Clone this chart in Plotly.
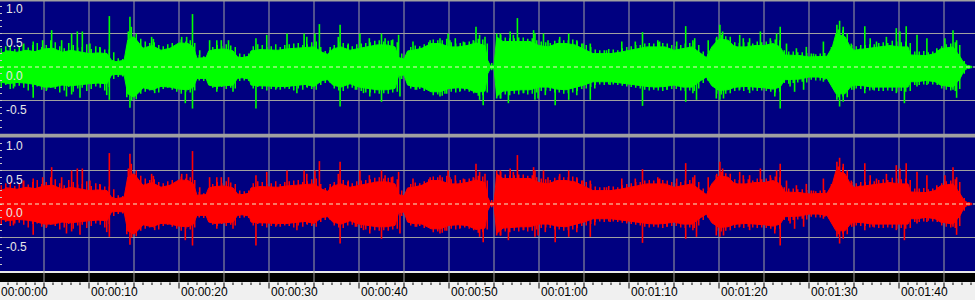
import plotly.graph_objects as go

# ---------------- data ----------------
TIME_LABEL_SECONDS = [0, 10, 20, 30, 40, 50, 60, 70, 80, 90, 100]
TIME_LABELS = ["00:00:00", "00:00:10", "00:00:20", "00:00:30", "00:00:40", "00:00:50",
               "00:01:00", "00:01:10", "00:01:20", "00:01:30", "00:01:40"]
Y_LABEL_VALUES = [1.0, 0.5, 0.0, -0.5]
Y_LABELS = ["1.0", "0.5", "0.0", "-0.5"]

# dense body of the waveform (seconds, upper edge, lower edge)
BODY_T = [0.1, 1, 2, 3, 4, 5, 6, 7, 8, 9, 10, 11, 12, 12.5, 13, 13.9, 14.3, 15, 15.7, 16,
          17, 18, 19, 20, 21, 21.6, 22, 23, 23.3, 24, 25, 26, 26.5, 27, 27.8, 28, 29, 30,
          31, 32, 33, 34, 35, 35.9, 36.5, 37.1, 38, 39, 40, 41, 42, 43, 44, 44.4, 45, 45.4,
          46, 47, 48, 49, 50, 51, 52, 53, 54, 54.3, 54.6, 55.0, 55.3, 56, 57, 58, 59, 60,
          61, 62, 63, 64, 65, 66, 67, 68, 69, 70, 71, 72, 73, 74, 75, 76, 77, 78, 78.6,
          79.2, 80, 81, 81.6, 82, 83, 84, 85, 86, 86.8, 87.3, 88, 89, 90, 91, 92, 92.6, 93,
          94, 94.6, 95, 96, 97, 98, 99, 100, 101, 101.3, 102, 103, 104, 104.6, 105, 106,
          106.8, 107.2, 107.6, 108.1]
BODY_TOP = [0.20, 0.24, 0.22, 0.25, 0.23, 0.27, 0.28, 0.22, 0.25, 0.22, 0.20, 0.21, 0.20,
            0.10, 0.08, 0.10, 0.40, 0.45, 0.33, 0.28, 0.32, 0.25, 0.28, 0.36, 0.35, 0.30,
            0.13, 0.14, 0.24, 0.26, 0.27, 0.24, 0.15, 0.14, 0.16, 0.24, 0.26, 0.25, 0.25,
            0.27, 0.28, 0.29, 0.30, 0.22, 0.19, 0.27, 0.30, 0.25, 0.28, 0.30, 0.33, 0.33,
            0.30, 0.14, 0.12, 0.24, 0.25, 0.28, 0.35, 0.35, 0.30, 0.30, 0.32, 0.36, 0.32,
            0.10, 0.02, 0.02, 0.45, 0.38, 0.38, 0.38, 0.38, 0.32, 0.30, 0.35, 0.35, 0.33,
            0.27, 0.20, 0.20, 0.20, 0.22, 0.25, 0.27, 0.30, 0.30, 0.30, 0.25, 0.28, 0.30,
            0.20, 0.14, 0.30, 0.42, 0.40, 0.32, 0.30, 0.30, 0.32, 0.32, 0.35, 0.30, 0.18,
            0.18, 0.17, 0.15, 0.15, 0.16, 0.30, 0.50, 0.45, 0.30, 0.25, 0.27, 0.28, 0.30,
            0.32, 0.30, 0.30, 0.18, 0.18, 0.17, 0.20, 0.27, 0.28, 0.30, 0.15, 0.06, 0.02,
            0.01]
BODY_BOT = [-0.22, -0.25, -0.23, -0.24, -0.26, -0.30, -0.30, -0.27, -0.28, -0.27, -0.25,
            -0.24, -0.25, -0.12, -0.11, -0.12, -0.40, -0.45, -0.36, -0.31, -0.34, -0.29,
            -0.30, -0.33, -0.34, -0.30, -0.17, -0.17, -0.27, -0.29, -0.28, -0.27, -0.17,
            -0.16, -0.18, -0.27, -0.28, -0.29, -0.29, -0.29, -0.28, -0.26, -0.29, -0.20,
            -0.19, -0.27, -0.30, -0.25, -0.30, -0.32, -0.34, -0.34, -0.32, -0.13, -0.12,
            -0.27, -0.29, -0.30, -0.37, -0.37, -0.32, -0.31, -0.32, -0.38, -0.36, -0.10,
            -0.02, -0.02, -0.44, -0.36, -0.35, -0.34, -0.34, -0.30, -0.30, -0.33, -0.34,
            -0.30, -0.27, -0.22, -0.22, -0.22, -0.23, -0.25, -0.27, -0.29, -0.30, -0.29,
            -0.27, -0.30, -0.30, -0.20, -0.15, -0.28, -0.35, -0.34, -0.31, -0.30, -0.29,
            -0.30, -0.31, -0.33, -0.30, -0.19, -0.19, -0.18, -0.15, -0.15, -0.17, -0.30,
            -0.40, -0.40, -0.30, -0.27, -0.28, -0.30, -0.30, -0.30, -0.30, -0.30, -0.22,
            -0.22, -0.20, -0.22, -0.27, -0.28, -0.30, -0.17, -0.06, -0.02, -0.01]

# medium strands sticking out of the body, two per second (at .25 s and .75 s)
STRAND_TOP = [0.28, 0.31, 0.33, 0.27, 0.30, 0.35, 0.29, 0.33, 0.36, 0.30, 0.33, 0.40,
              0.37, 0.31, 0.28, 0.36, 0.33, 0.29, 0.30, 0.34, 0.27, 0.31, 0.29, 0.26,
              0.26, 0.22, 0.13, 0.12, 0.30, 0.46, 0.50, 0.42, 0.38, 0.36, 0.37, 0.33,
              0.31, 0.34, 0.36, 0.33, 0.41, 0.38, 0.40, 0.36, 0.18, 0.16, 0.17, 0.30,
              0.33, 0.31, 0.34, 0.32, 0.30, 0.20, 0.19, 0.20, 0.31, 0.34, 0.33, 0.30,
              0.31, 0.34, 0.30, 0.33, 0.34, 0.35, 0.36, 0.33, 0.34, 0.37, 0.38, 0.30,
              0.24, 0.25, 0.33, 0.37, 0.36, 0.33, 0.31, 0.34, 0.35, 0.36, 0.37, 0.39,
              0.40, 0.38, 0.39, 0.41, 0.37, 0.20, 0.17, 0.30, 0.32, 0.31, 0.34, 0.37,
              0.41, 0.40, 0.40, 0.42, 0.37, 0.35, 0.36, 0.37, 0.38, 0.39, 0.42, 0.41,
              0.35, 0.06, 0.03, 0.48, 0.44, 0.43, 0.43, 0.44, 0.44, 0.42, 0.43, 0.40,
              0.38, 0.37, 0.36, 0.39, 0.41, 0.40, 0.40, 0.41, 0.38, 0.35, 0.33, 0.30,
              0.26, 0.25, 0.25, 0.27, 0.26, 0.25, 0.28, 0.30, 0.31, 0.33, 0.33, 0.35,
              0.36, 0.35, 0.37, 0.36, 0.35, 0.33, 0.31, 0.33, 0.35, 0.36, 0.37, 0.33,
              0.23, 0.19, 0.22, 0.45, 0.48, 0.46, 0.45, 0.37, 0.36, 0.37, 0.37, 0.35,
              0.38, 0.37, 0.38, 0.39, 0.41, 0.40, 0.25, 0.23, 0.23, 0.22, 0.22, 0.21,
              0.20, 0.19, 0.20, 0.21, 0.21, 0.30, 0.56, 0.55, 0.50, 0.33, 0.31, 0.33,
              0.33, 0.34, 0.34, 0.36, 0.37, 0.36, 0.39, 0.38, 0.37, 0.38, 0.36, 0.23,
              0.23, 0.24, 0.22, 0.23, 0.25, 0.31, 0.34, 0.35, 0.37, 0.33, 0.09, 0.03]
STRAND_BOT = [-0.30, -0.27, -0.33, -0.29, -0.28, -0.31, -0.35, -0.30, -0.29, -0.34,
              -0.36, -0.31, -0.33, -0.38, -0.35, -0.30, -0.37, -0.32, -0.31, -0.36,
              -0.33, -0.29, -0.31, -0.35, -0.30, -0.18, -0.15, -0.14, -0.33, -0.50,
              -0.48, -0.40, -0.37, -0.35, -0.36, -0.38, -0.33, -0.31, -0.34, -0.37,
              -0.40, -0.37, -0.38, -0.35, -0.20, -0.21, -0.20, -0.31, -0.33, -0.30,
              -0.33, -0.31, -0.32, -0.21, -0.20, -0.21, -0.32, -0.30, -0.33, -0.35,
              -0.33, -0.34, -0.34, -0.32, -0.33, -0.35, -0.32, -0.34, -0.31, -0.33,
              -0.34, -0.27, -0.24, -0.23, -0.32, -0.35, -0.36, -0.32, -0.31, -0.34,
              -0.36, -0.38, -0.38, -0.39, -0.40, -0.39, -0.40, -0.38, -0.37, -0.18,
              -0.17, -0.32, -0.34, -0.33, -0.36, -0.35, -0.42, -0.41, -0.43, -0.40,
              -0.37, -0.38, -0.36, -0.35, -0.37, -0.39, -0.43, -0.42, -0.38, -0.05,
              -0.03, -0.47, -0.41, -0.42, -0.40, -0.41, -0.39, -0.41, -0.40, -0.38,
              -0.36, -0.35, -0.36, -0.38, -0.38, -0.40, -0.39, -0.38, -0.36, -0.33,
              -0.32, -0.30, -0.27, -0.26, -0.27, -0.26, -0.26, -0.27, -0.28, -0.29,
              -0.30, -0.31, -0.32, -0.34, -0.35, -0.34, -0.35, -0.36, -0.34, -0.33,
              -0.33, -0.35, -0.36, -0.35, -0.36, -0.32, -0.24, -0.20, -0.24, -0.40,
              -0.41, -0.40, -0.39, -0.36, -0.35, -0.36, -0.34, -0.35, -0.36, -0.35,
              -0.36, -0.37, -0.38, -0.37, -0.24, -0.25, -0.24, -0.23, -0.22, -0.23,
              -0.19, -0.20, -0.20, -0.19, -0.22, -0.30, -0.45, -0.44, -0.45, -0.34,
              -0.32, -0.33, -0.33, -0.35, -0.35, -0.36, -0.36, -0.35, -0.36, -0.37,
              -0.36, -0.37, -0.36, -0.27, -0.27, -0.26, -0.25, -0.26, -0.27, -0.32,
              -0.34, -0.35, -0.36, -0.33, -0.10, -0.03]

# individual peaks above the body (seconds, value)
UP_T = [0.85, 2.7, 3.8, 4.85, 5.85, 6.96, 8.07, 8.7, 9.26, 10.1, 11.2, 12.26, 14.37, 14.55,
        14.7, 16.96, 17.15, 20.3, 20.85, 21.5, 22.3, 23.4, 24.2, 24.7, 25.5, 28.55, 29.75,
        32.0, 33.9, 34.2, 35.1, 35.6, 36.8, 37.7, 37.9, 38.8, 40.1, 41.15, 42.5, 42.9, 43.6,
        44.4, 46.0, 47.9, 49.0, 49.9, 50.1, 50.7, 51.6, 52.7, 53.0, 53.4, 54.0, 55.3, 55.7,
        56.8, 57.15, 57.6, 59.4, 59.55, 60.5, 61.0, 62.3, 63.3, 64.2, 64.9, 65.7, 67.5,
        69.2, 70.7, 71.5, 73.2, 73.4, 75.3, 76.3, 77.1, 77.3, 78.8, 79.7, 80.1, 80.4, 82.3,
        82.7, 83.4, 84.6, 85.7, 86.4, 86.8, 87.5, 88.6, 89.7, 90.5, 91.6, 92.5, 93.1, 93.4,
        93.8, 94.7, 95.7, 96.2, 96.8, 97.5, 98.6, 99.7, 100.1, 100.8, 102.0, 103.1, 104.2,
        105.1, 106.0, 106.4]
UP_V = [0.25, 0.33, 0.38, 0.40, 0.55, 0.40, 0.50, 0.53, 0.53, 0.35, 0.30, 0.76, 0.53, 0.75,
        0.60, 0.45, 0.42, 0.45, 0.45, 0.79, 0.25, 0.40, 0.40, 0.40, 0.40, 0.43, 0.48, 0.50,
        0.50, 0.45, 0.50, 0.64, 0.30, 0.45, 0.63, 0.35, 0.50, 0.43, 0.50, 0.43, 0.40, 0.48,
        0.38, 0.40, 0.43, 0.50, 0.40, 0.43, 0.38, 0.40, 0.60, 0.48, 0.45, 0.50, 0.50, 0.53,
        0.48, 0.73, 0.55, 0.50, 0.50, 0.40, 0.45, 0.50, 0.40, 0.35, 0.35, 0.25, 0.38, 0.38,
        0.52, 0.40, 0.38, 0.38, 0.61, 0.40, 0.43, 0.40, 0.43, 0.63, 0.53, 0.48, 0.43, 0.43,
        0.53, 0.43, 0.50, 0.60, 0.35, 0.28, 0.30, 0.20, 0.38, 0.30, 0.63, 0.69, 0.60, 0.35,
        0.28, 0.61, 0.43, 0.38, 0.45, 0.58, 0.53, 0.61, 0.48, 0.43, 0.28, 0.43, 0.55, 0.40]
DN_T = [1.6, 3.8, 5.3, 7.5, 8.07, 9.0, 11.97, 12.26, 14.2, 14.55, 17.3, 20.7, 21.5, 24.2,
        26.0, 28.55, 30.85, 33.1, 34.2, 37.9, 39.6, 40.5, 41.2, 42.5, 44.55, 46.4, 49.0,
        49.55, 51.2, 53.4, 53.8, 55.3, 55.7, 56.6, 58.3, 59.55, 59.9, 60.7, 61.8, 63.3, 64.2,
        65.7, 66.2, 67.9, 71.5, 73.2, 74.2, 75.3, 76.3, 77.1, 77.5, 79.7, 80.1, 80.5, 82.3,
        83.4, 86.2, 86.8, 87.9, 88.4, 89.4, 91.6, 92.5, 93.1, 93.4, 93.8, 95.0, 96.2, 97.1,
        99.7, 100.6, 102.0, 103.1, 106.0, 106.4]
DN_V = [-0.32, -0.46, -0.34, -0.44, -0.41, -0.46, -0.42, -0.49, -0.45, -0.61, -0.39, -0.54,
        -0.62, -0.37, -0.37, -0.62, -0.32, -0.39, -0.30, -0.59, -0.34, -0.39, -0.44, -0.52,
        -0.44, -0.34, -0.44, -0.40, -0.37, -0.49, -0.57, -0.47, -0.47, -0.54, -0.39, -0.49,
        -0.47, -0.42, -0.57, -0.49, -0.42, -0.49, -0.32, -0.27, -0.58, -0.29, -0.34, -0.29,
        -0.52, -0.39, -0.49, -0.47, -0.49, -0.47, -0.34, -0.39, -0.44, -0.62, -0.29, -0.37,
        -0.34, -0.22, -0.27, -0.49, -0.59, -0.52, -0.34, -0.39, -0.34, -0.39, -0.54, -0.29,
        -0.27, -0.34, -0.46]

CHANNEL_COLORS = ["#00ff00", "#ff0000"]

# ---------------- figure ----------------
W, H = 975, 300
X_RANGE = [(0 + 1) / 9, (W + 1) / 9]        # 9 px per second
TOP_DOM = [1 - 134 / H, 1.0]
BOT_DOM = [1 - 271 / H, 1 - 137 / H]
NAVY = "#000080"
GRID = "#a0a0a0"
LABEL_FONT = dict(family="Liberation Sans, Arial, sans-serif", size=12)


def to_paper(sec):
    return max(0.0, (sec - X_RANGE[0]) / (X_RANGE[1] - X_RANGE[0]))


strand_t = [k * 0.5 + 0.25 for k in range(len(STRAND_TOP))]

fig = go.Figure()

for i, color in enumerate(CHANNEL_COLORS):
    xa = "x" if i == 0 else "x2"
    ya = "y" if i == 0 else "y2"
    fig.add_trace(go.Scatter(
        x=BODY_T + BODY_T[::-1], y=BODY_TOP + BODY_BOT[::-1],
        fill="toself", fillcolor=color, mode="lines",
        line=dict(color=color, width=1), xaxis=xa, yaxis=ya,
        hoverinfo="skip", showlegend=False))
    sx, sy = [], []
    for t, hi, lo in zip(strand_t, STRAND_TOP, STRAND_BOT):
        sx += [t, t, None]
        sy += [lo, hi, None]
    fig.add_trace(go.Scatter(
        x=sx, y=sy, mode="lines", line=dict(color=color, width=1.5),
        xaxis=xa, yaxis=ya, hoverinfo="skip", showlegend=False))
    sx, sy = [], []
    for t, v in zip(UP_T + DN_T, UP_V + DN_V):
        sx += [t, t, None]
        sy += [0, v, None]
    fig.add_trace(go.Scatter(
        x=sx, y=sy, mode="lines", line=dict(color=color, width=1.6),
        xaxis=xa, yaxis=ya, hoverinfo="skip", showlegend=False))

shapes = []
for ya in ["y", "y2"]:
    shapes.append(dict(type="rect", xref="paper", yref=f"{ya} domain", x0=0, x1=1, y0=0, y1=1,
                       fillcolor=NAVY, line=dict(width=0), layer="below"))
shapes.append(dict(type="rect", xref="paper", yref="paper", x0=0, x1=1, y0=1 - 1.5 / H, y1=1,
                   fillcolor=GRID, line=dict(width=0), layer="below"))
shapes.append(dict(type="rect", xref="paper", yref="paper", x0=0, x1=1,
                   y0=1 - 137.5 / H, y1=1 - 133.8 / H,
                   fillcolor=GRID, line=dict(width=0), layer="below"))
shapes.append(dict(type="rect", xref="paper", yref="paper", x0=0, x1=1,
                   y0=1 - 273 / H, y1=1 - 271 / H,
                   fillcolor="#e8e8e8", line=dict(width=0), layer="below"))
shapes.append(dict(type="rect", xref="paper", yref="paper", x0=0, x1=1,
                   y0=1 - 282 / H, y1=1 - 273 / H,
                   fillcolor="#000000", line=dict(width=0), layer="below"))
for ya in ["y", "y2"]:
    for lv in [0.5, -0.5]:
        shapes.append(dict(type="line", xref="paper", yref=ya, x0=0, x1=1, y0=lv, y1=lv,
                           line=dict(color=GRID, width=1), layer="below"))
for s in range(5, 110, 5):
    shapes.append(dict(type="line", xref="x", yref="paper", x0=s, x1=s,
                       y0=1 - 282 / H, y1=1, line=dict(color=GRID, width=1), layer="below"))
for s in range(0, 109):
    ln = 6 if s % 5 == 0 else 2.5
    shapes.append(dict(type="line", xref="x", yref="paper", x0=s, x1=s,
                       y0=1 - (282.5 + ln) / H, y1=1 - 282.5 / H,
                       line=dict(color="#000000", width=1), layer="above"))
for ya in ["y", "y2"]:
    shapes.append(dict(type="line", xref="paper", yref=ya, x0=0, x1=1, y0=0, y1=0,
                       line=dict(color="#f0f0c8", width=1, dash="4px,3px"), layer="above"))

annotations = []
for ya in ["y", "y2"]:
    for v, lab in zip(Y_LABEL_VALUES, Y_LABELS):
        annotations.append(dict(xref="paper", yref=ya, x=5 / W, y=v, text=lab,
                                showarrow=False, xanchor="left", yanchor="top",
                                yshift=-1, borderpad=0,
                                font=dict(color="#e8e8e8", **LABEL_FONT)))
for s, lab in zip(TIME_LABEL_SECONDS, TIME_LABELS):
    annotations.append(dict(xref="paper", yref="paper", x=to_paper(s), y=1 - 284 / H,
                            text=lab, showarrow=False, xanchor="left", yanchor="top",
                            xshift=1 if s > 0 else 0, borderpad=0,
                            font=dict(color="#000000", **LABEL_FONT)))

axis_x = dict(range=X_RANGE, visible=False, fixedrange=True)
axis_y = dict(range=[-1, 1], showgrid=False, zeroline=False, showline=False,
              showticklabels=False, ticks="inside", ticklen=2, dtick=0.1, tick0=0,
              tickcolor="#c8c8c8", fixedrange=True)

fig.update_layout(
    width=W, height=H, autosize=False,
    margin=dict(l=0, r=0, t=0, b=0, pad=0),
    paper_bgcolor="#f0f0f0", plot_bgcolor="rgba(0,0,0,0)",
    xaxis=dict(anchor="y", domain=[0, 1], **axis_x),
    xaxis2=dict(anchor="y2", domain=[0, 1], matches="x", **axis_x),
    yaxis=dict(anchor="x", domain=TOP_DOM, **axis_y),
    yaxis2=dict(anchor="x2", domain=BOT_DOM, **axis_y),
    shapes=shapes, annotations=annotations, showlegend=False,
)

fig.write_html("out.html")
